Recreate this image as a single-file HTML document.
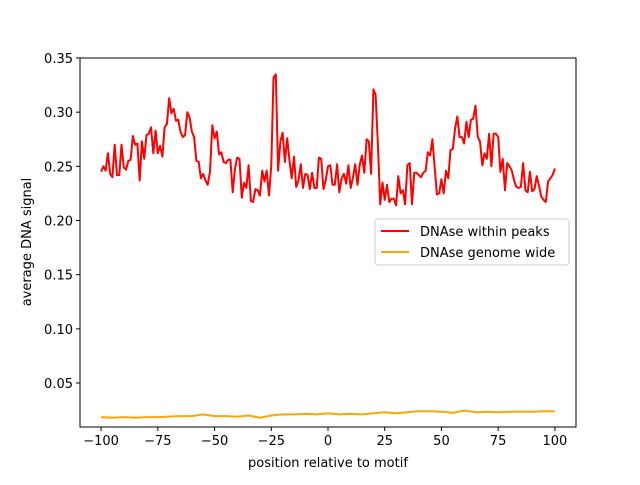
<!DOCTYPE html>
<html><head><meta charset="utf-8"><style>
body{margin:0;background:#fff}
svg text{font-family:"DejaVu Sans","Liberation Sans",sans-serif;font-size:13px;fill:#000}
</style></head><body>
<svg id="chart" width="640" height="480" viewBox="0 0 640 480" xmlns="http://www.w3.org/2000/svg">
<rect x="0" y="0" width="640" height="480" fill="#fff"/>
<g id="plot"></g>
<rect x="80" y="58" width="496" height="369" fill="none" stroke="#000" stroke-width="1"/>
<text x="328" y="467" text-anchor="middle">position relative to motif</text>
<text transform="translate(31,242) rotate(-90)" text-anchor="middle">average DNA signal</text>
<g>
<rect x="375" y="219" width="194" height="46" rx="3" fill="#fff" fill-opacity="0.8" stroke="#ccc"/>
<line x1="381" y1="231" x2="409" y2="231" stroke="red" stroke-width="2"/>
<text x="420" y="236">DNAse within peaks</text>
<line x1="381" y1="252" x2="409" y2="252" stroke="orange" stroke-width="2"/>
<text x="420" y="257">DNAse genome wide</text>
</g>
</svg>
<script>
const xTicks=[-100,-75,-50,-25,0,25,50,75,100];
const yTicks=[0.05,0.10,0.15,0.20,0.25,0.30,0.35];
const yTickLabels=["0.05","0.10","0.15","0.20","0.25","0.30","0.35"];
const peaksValues=[0.245,0.250,0.246,0.262,0.243,0.240,0.270,0.242,0.242,0.270,0.249,0.247,0.255,0.256,0.278,0.270,0.271,0.237,0.273,0.257,0.279,0.280,0.286,0.262,0.283,0.262,0.269,0.259,0.286,0.289,0.313,0.299,0.303,0.292,0.293,0.282,0.277,0.279,0.300,0.295,0.282,0.277,0.255,0.254,0.239,0.243,0.237,0.233,0.245,0.288,0.276,0.282,0.261,0.263,0.254,0.253,0.256,0.256,0.226,0.248,0.258,0.257,0.221,0.235,0.230,0.251,0.218,
0.217,0.229,0.228,0.223,0.246,0.236,0.246,0.223,0.251,0.332,0.335,0.246,0.273,0.281,0.254,0.276,0.256,0.239,0.259,0.231,0.237,0.252,0.230,0.243,0.242,0.229,0.244,0.230,0.230,0.258,0.257,0.229,0.237,0.250,0.251,0.233,0.233,0.252,0.226,0.239,0.243,0.234,0.251,0.230,0.240,0.252,0.233,0.252,0.260,0.244,0.275,0.273,0.243,0.321,0.316,0.270,0.215,0.235,0.219,0.233,0.217,0.220,0.220,0.214,0.241,0.225,0.228,0.215,0.251,0.253,
0.215,0.244,0.244,0.242,0.240,0.244,0.246,0.263,0.260,0.275,0.250,0.224,0.225,0.238,0.225,0.246,0.239,0.265,0.266,0.285,0.296,0.277,0.277,0.271,0.291,0.277,0.293,0.294,0.306,0.277,0.273,0.251,0.262,0.257,0.280,0.250,0.280,0.280,0.277,0.245,0.257,0.228,0.253,0.250,0.246,0.237,0.231,0.230,0.231,0.253,0.228,0.226,0.245,0.227,0.229,0.241,0.232,0.222,0.219,0.217,0.236,0.239,0.242,0.248];
const genomePositions=[-100,-95,-90,-85,-80,-75,-70,-65,-60,-55,-50,-45,-40,-35,-30,-25,-20,-15,-10,-5,0,5,10,15,20,25,30,35,40,45,50,55,60,65,70,75,80,85,90,95,100];
const genomeValues=[0.0185,0.018,0.0185,0.018,0.0185,0.0185,0.019,0.0195,0.0195,0.021,0.0195,0.0195,0.019,0.020,0.018,0.020,0.021,0.021,0.0215,0.021,0.022,0.021,0.0215,0.021,0.022,0.023,0.022,0.023,0.024,0.024,0.0235,0.0225,0.0245,0.023,0.0235,0.023,0.0235,0.0235,0.0235,0.024,0.024];

const X0=80,X1=576,Y0=427,Y1=58,xmin=-109.3,xmax=109.3,ymin=0.0094,ymax=0.35;
function sx(v){return X0+(v-xmin)/(xmax-xmin)*(X1-X0);}
function sy(v){return Y0-(v-ymin)/(ymax-ymin)*(Y0-Y1);}
const NS="http://www.w3.org/2000/svg";
const g=document.getElementById('plot');
function mk(t,a){const e=document.createElementNS(NS,t);for(const k in a)e.setAttribute(k,a[k]);g.appendChild(e);return e;}
xTicks.forEach(t=>{
  const l=mk('line',{x1:sx(t),x2:sx(t),y1:Y0,y2:Y0+4,stroke:'#000'});
  
  
  const tx=mk('text',{x:sx(t),y:Y0+18,'text-anchor':'middle'});
  tx.textContent=String(t).replace('-','\u2212');
  
  
});
yTicks.forEach((t,i)=>{
  const l=mk('line',{x1:X0-4,x2:X0,y1:sy(t),y2:sy(t),stroke:'#000'});
  
  
  const tx=mk('text',{x:X0-7,y:sy(t)+5,'text-anchor':'end'});
  tx.textContent=yTickLabels[i];
  
  
});
const gp=genomeValues.map((v,i)=>sx(genomePositions[i]).toFixed(1)+','+sy(v).toFixed(1)).join(' ');
const ol=mk('polyline',{points:gp,fill:'none',stroke:'orange','stroke-width':2});


const n=peaksValues.length;
const pp=peaksValues.map((v,i)=>sx(-100+i*200/(n-1)).toFixed(1)+','+sy(v).toFixed(1)).join(' ');
const rl=mk('polyline',{points:pp,fill:'none',stroke:'red','stroke-width':2,'stroke-linejoin':'round'});


</script>
</body></html>
